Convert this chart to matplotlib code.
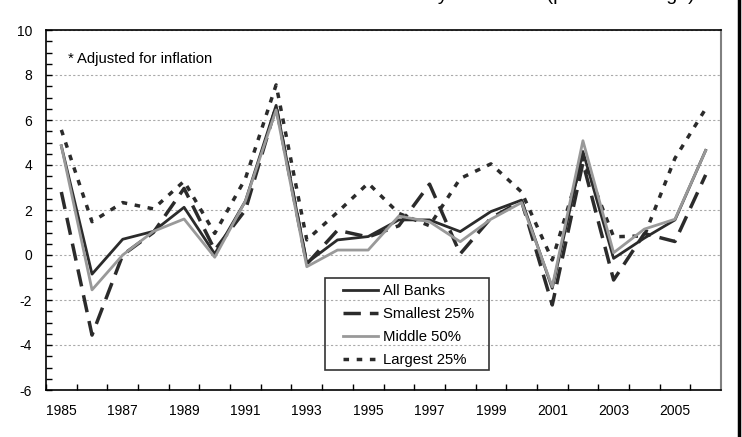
import matplotlib
matplotlib.use("Agg")
import matplotlib.pyplot as plt
from matplotlib.lines import Line2D
from matplotlib.patches import Rectangle
from matplotlib.ticker import MultipleLocator

plt.rcParams['font.family'] = ['Liberation Sans', 'DejaVu Sans']
plt.rcParams['axes.unicode_minus'] = False

# Datos (1985-2006)
anios = list(range(1985, 2007))
todosBancos = [4.85, -0.85, 0.7, 1.05, 2.12, 0.05, 2.4, 6.65, -0.35, 0.67, 0.82,
               1.56, 1.56, 1.04, 1.93, 2.44, -1.48, 4.6, -0.15, 0.75, 1.56, 4.65]
menores25 = [2.8, -3.56, 0.0, 1.0, 2.96, 0.22, 2.0, 6.6, -0.4, 1.1, 0.8,
             1.3, 3.15, 0.05, 1.64, 2.4, -2.22, 4.1, -1.11, 0.95, 0.6, 3.56]
medio50 = [4.85, -1.55, 0.0, 1.05, 1.6, -0.1, 2.4, 6.45, -0.52, 0.22, 0.22,
           1.73, 1.48, 0.59, 1.59, 2.33, -1.41, 5.08, 0.1, 1.15, 1.59, 4.64]
mayores25 = [5.56, 1.48, 2.33, 2.05, 3.28, 0.96, 3.4, 7.56, 0.67, 1.9, 3.19,
             1.85, 1.3, 3.4, 4.05, 2.8, -0.22, 4.3, 0.81, 0.85, 4.3, 6.5]
etiquetasX = [str(a) for a in range(1985, 2007, 2)]

fig = plt.figure(figsize=(7.42, 4.37), dpi=100)
ax = fig.add_axes([46 / 742, 47 / 437, 675 / 742, 360 / 437])

ax.plot(anios, todosBancos, color='#2b2b2b', lw=2, label='All Banks', zorder=4)
ax.plot(anios, menores25, color='#2b2b2b', lw=2.5, dashes=(5, 2.6), label='Smallest 25%', zorder=3)
ax.plot(anios, medio50, color='#999999', lw=2, label='Middle 50%', zorder=5)
ax.plot(anios, mayores25, color='#2b2b2b', lw=2.5, dashes=(1.6, 2.2), label='Largest 25%', zorder=2)

ax.set_xlim(1984.5, 2006.5)
ax.set_ylim(-6, 10)
ax.set_xticks(range(1985, 2007, 2))
ax.set_xticklabels(etiquetasX, fontsize=10)
ax.set_xticks([a + 0.5 for a in range(1984, 2006)], minor=True)
ax.tick_params(axis='x', which='major', length=0, pad=10)
ax.tick_params(axis='x', which='minor', direction='in', length=4, width=1)
ax.yaxis.set_major_locator(MultipleLocator(2))
ax.yaxis.set_minor_locator(MultipleLocator(0.5))
ax.tick_params(axis='y', which='both', direction='in', length=4, width=1, labelsize=10, pad=10)
ax.grid(axis='y', which='major', color='#aaaaaa', linestyle=(0, (2, 2)), lw=0.8)

for lado in ['left', 'top', 'bottom']:
    ax.spines[lado].set_color('black')
    ax.spines[lado].set_linewidth(1.2)
ax.spines['right'].set_color('#808080')
ax.spines['right'].set_linewidth(1.5)

ax.text(0.033, 0.919, '* Adjusted for inflation', transform=ax.transAxes,
        fontsize=10.7, va='center', ha='left')

# Leyenda sin marco y recuadro aparte
ax.legend(loc='upper left', bbox_to_anchor=((343 - 46) / 675, (390 - 284) / 360),
          borderaxespad=0, borderpad=0, fontsize=10.7, frameon=False,
          handlelength=2.35, handletextpad=0.35, labelspacing=0.6)
ax.add_patch(Rectangle(((325 - 46) / 675, (390 - 370) / 360), 164 / 675, 92 / 360,
                       transform=ax.transAxes, fill=False, edgecolor='#333333',
                       lw=1.2, zorder=6))

# Titulo cortado en la parte superior (solo se ven los trazos inferiores)
fig.text(200 / 742, 1 + 0.5 / 437, 'Real* Net Income Growth by Bank Size (percent change)',
         fontsize=14, ha='left', va='baseline')

# Linea vertical del borde derecho
fig.add_artist(Line2D([739 / 742, 739 / 742], [0, 1], transform=fig.transFigure,
                      color='black', lw=2.5))

fig.savefig('out.png', dpi=100)
